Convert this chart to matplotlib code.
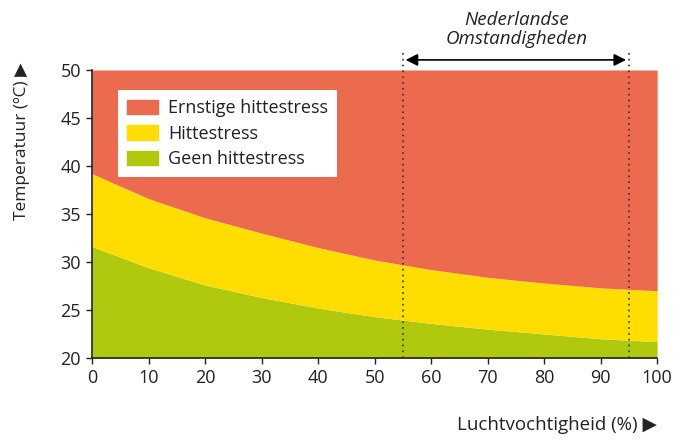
import numpy as np
import matplotlib.pyplot as plt
from matplotlib.patches import Patch

# luchtvochtigheid (%) en grenzen (graden C)
humidity = [0, 10, 20, 30, 40, 50, 60, 70, 80, 90, 100]
heat_limit = [39.2, 36.6, 34.6, 33.0, 31.5, 30.2, 29.2, 28.4, 27.8, 27.3, 27.0]
safe_limit = [31.6, 29.4, 27.6, 26.3, 25.2, 24.3, 23.6, 23.0, 22.5, 22.0, 21.7]
nl_range = [55, 95]
labels = ["Ernstige hittestress", "Hittestress", "Geen hittestress"]
colors = ["#EC6A4E", "#FFDD00", "#B0C90E"]

plt.rcParams['font.family'] = ['Open Sans', 'DejaVu Sans']

fig = plt.figure(figsize=(6.74, 4.43), dpi=100)
ax = fig.add_axes([0.1365, 0.192, 0.8385, 0.65])

x = np.array(humidity)
ax.fill_between(x, 20, safe_limit, color=colors[2], lw=0)
ax.fill_between(x, safe_limit, heat_limit, color=colors[1], lw=0)
ax.fill_between(x, heat_limit, 50, color=colors[0], lw=0)

ax.set_xlim(0, 100)
ax.set_ylim(20, 50)
ax.set_xticks(range(0, 101, 10))
ax.set_yticks(range(20, 51, 5))
ax.tick_params(labelsize=13, length=4.5, width=1, colors='#222222', labelcolor='#222222')
for s in ['top', 'right']:
    ax.spines[s].set_visible(False)
for s in ['left', 'bottom']:
    ax.spines[s].set_color('#222222')
    ax.spines[s].set_linewidth(1.2)

# gestippelde lijnen en pijl
for v in nl_range:
    ax.plot([v, v], [20, 51.9], ls=(0, (1, 2.5)), color='#333333', lw=1.2, clip_on=False)
ax.annotate('', xy=(nl_range[0], 51.05), xytext=(nl_range[1], 51.05),
            arrowprops=dict(arrowstyle='<|-|>', color='black', lw=1.2, mutation_scale=18),
            annotation_clip=False)
ax.text(75.2, 52.3, "Nederlandse\nOmstandigheden", ha='center', va='bottom',
        style='italic', fontsize=13.5, color='#222222', linespacing=1.1, clip_on=False)

handles = [Patch(color=c) for c in colors]
leg = ax.legend(handles, labels, loc='upper left', bbox_to_anchor=(0.046, 0.93),
                borderaxespad=0, fontsize=13, frameon=True, fancybox=False, framealpha=1,
                handlelength=1.72, handleheight=0.83, handletextpad=0.55,
                borderpad=0.5, labelspacing=0.42)
leg.get_frame().set_edgecolor('white')
leg.get_frame().set_linewidth(0)
for t in leg.get_texts():
    t.set_color('#222222')

fig.text(0.033, 0.86, "Temperatuur (ºC) ▶", rotation=90, ha='center', va='top',
         fontsize=12.5, color='#222222')
fig.text(0.975, 0.02, "Luchtvochtigheid (%) ▶", ha='right', va='bottom',
         fontsize=13.5, color='#222222')

fig.savefig('out.png', dpi=100)
